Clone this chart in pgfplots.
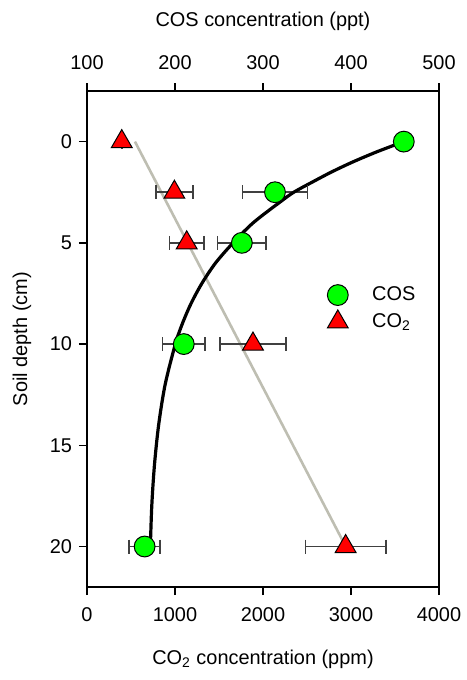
\documentclass[border=0pt]{standalone}
\usepackage{fontspec}
\setmainfont{Liberation Sans}
\usepackage{pgfplots}
\pgfplotsset{compat=1.18}
\definecolor{cosgreen}{RGB}{0,255,0}
\definecolor{cored}{RGB}{255,0,0}
\definecolor{fitgrey}{RGB}{190,190,178}
\definecolor{errgrey}{RGB}{64,64,64}
\pgfplotsset{
  panel/.style={
    scale only axis, width=176bp, height=248bp,
    ymin=-2.5, ymax=22, y dir=reverse,
    tick align=outside, major tick length=4bp,
    axis line style={line width=1bp},
    tick style={black, line width=0.7bp},
    /pgf/number format/assume math mode=true,
    /pgf/number format/1000 sep={},
  },
  % horizontal error bar: a segment with vertical caps
  ebar/.style={errgrey, line width=0.8bp, mark=|, mark size=3.5bp,
    mark options={errgrey, line width=0.8bp}, forget plot},
}
\begin{document}
\begin{tikzpicture}
\path[use as bounding box] (-43.5bp,-46.5bp) rectangle (190bp,293.5bp);
% CO2, bottom axis
\begin{axis}[panel,
  xmin=0, xmax=4000,
  xtick={0,1000,2000,3000,4000},
  ytick={0,5,10,15,20},
  xtick pos=bottom, xticklabel pos=bottom,
  ytick pos=left, yticklabel pos=left,
  xticklabel style={yshift=-3bp},
  xlabel={CO\textsubscript{2} concentration (ppm)},
  xlabel style={at={(axis description cs:0.5,-0.145)}, anchor=center},
  ylabel={Soil depth (cm)},
  ylabel style={at={(axis description cs:-0.185,0.5)}, anchor=center, rotate=0},
]
\addplot[fitgrey, line width=1.3bp, no marks] coordinates {(545,0) (2940,20)};
% error bars (mean +- sd)
\addplot[ebar] coordinates {(395,0)};
\addplot[ebar] coordinates {(781,2.5) (1205,2.5)};
\addplot[ebar] coordinates {(939,5) (1327,5)};
\addplot[ebar] coordinates {(1509,10) (2263,10)};
\addplot[ebar] coordinates {(2483,20) (3395,20)};
\addplot[only marks, mark=triangle*, mark size=6bp,
  mark options={fill=cored, draw=black, line width=0.5bp}]
  coordinates {(395,0) (993,2.5) (1133,5) (1886,10) (2939,20)};
\end{axis}
% COS, top axis
\begin{axis}[panel,
  xmin=100, xmax=500,
  xtick={100,200,300,400,500},
  ytick=\empty,
  xtick pos=top, xticklabel pos=top,
  xticklabel style={yshift=3bp},
  xlabel={COS concentration (ppt)},
  xlabel style={at={(axis description cs:0.5,1.141)}, anchor=center},
  legend style={draw=none, fill=none, at={(axis description cs:0.645,0.6225)},
    anchor=north west, row sep=1bp},
  legend cell align=left,
  legend image code/.code={
    \draw[#1] plot coordinates {(0.3cm,0cm)};
    \path (0cm,0cm) (0.6cm+6.5bp,0cm);},
]
\addplot[ebar] coordinates {(276.6,2.5) (350.6,2.5)};
\addplot[ebar] coordinates {(248.5,5) (303.5,5)};
\addplot[ebar] coordinates {(186,10) (234,10)};
\addplot[ebar] coordinates {(148,20) (183,20)};
\addplot[only marks, mark=*, mark size=5.2bp,
  mark options={fill=cosgreen, draw=black, line width=0.5bp}]
  coordinates {(460,0) (313.6,2.5) (276,5) (210,10) (165.5,20)};
\addlegendentry{COS}
\addlegendimage{only marks, mark=triangle*, mark size=6bp,
  mark options={fill=cored, draw=black, line width=0.5bp}}
\addlegendentry{CO\textsubscript{2}}
\addplot[black, line width=1.6bp, smooth, no marks, forget plot] coordinates {
  (460,0) (429.6,0.5) (402.3,1) (377.9,1.5) (356,2) (335,2.5) (318.9,3)
  (289.1,4) (266,5) (246,6) (230.6,7) (218.2,8) (208.3,9) (200.4,10)
  (188.8,12) (181.4,14) (176.6,16) (173.6,18) (172,20)};
\end{axis}
\end{tikzpicture}
\end{document}
